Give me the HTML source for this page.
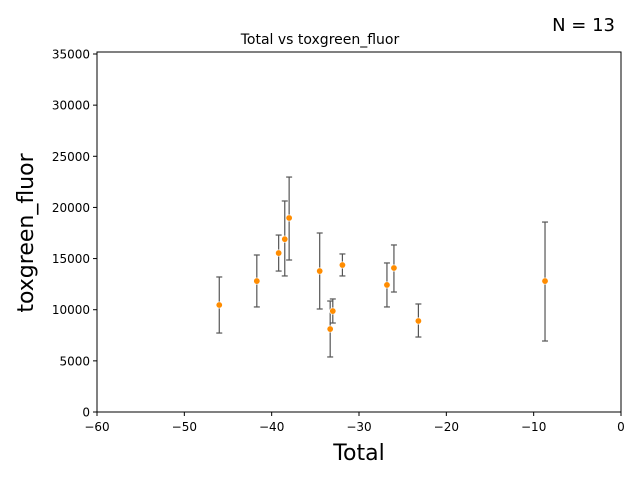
<!DOCTYPE html>
<html><head><meta charset="utf-8"><style>
body{margin:0;background:#fff;font-family:"Liberation Sans","DejaVu Sans",sans-serif;}
svg text{font-family:"DejaVu Sans","Liberation Sans",sans-serif;}
</style></head><body>
<svg id="chart" width="640" height="480" xmlns="http://www.w3.org/2000/svg">
<rect x="0" y="0" width="640" height="480" fill="#fff"/>
<text x="320" y="44" text-anchor="middle" font-size="14">Total vs toxgreen_fluor</text>
<text x="615" y="31" text-anchor="end" font-size="18">N = 13</text>
<text x="359" y="460" text-anchor="middle" font-size="22">Total</text>
<text transform="translate(33,233) rotate(-90)" text-anchor="middle" font-size="22">toxgreen_fluor</text>
<g id="axes"></g>
<g id="marks"></g>
<rect x="97" y="52" width="524" height="360" fill="none" stroke="#000" stroke-width="1"/>
</svg>
<script>
const xVals=[-46.0,-41.7,-39.2,-38.5,-38.0,-34.5,-33.3,-33.0,-31.9,-26.8,-26.0,-23.2,-8.7];
const yVals=[10460,12800,15540,16900,18970,13780,8110,9870,14370,12420,14080,8900,12800];
const yHigh=[13200,15350,17300,20630,22970,17500,10850,11050,15450,14570,16330,10560,18570];
const yLow=[7720,10270,13780,13300,14860,10070,5380,8700,13300,10270,11730,7330,6940];
const xTicks=[-60,-50,-40,-30,-20,-10,0];
const yTicks=[0,5000,10000,15000,20000,25000,30000,35000];
const NS="http://www.w3.org/2000/svg";
const X0=97,X1=621,Y0=412,Y1=54;
function sx(v){return X0+(v-(-60))/60*(X1-X0);}
function sy(v){return Y0-v/35000*(Y0-Y1);}
function mk(t,a,p){const e=document.createElementNS(NS,t);for(const k in a)e.setAttribute(k,a[k]);p.appendChild(e);return e;}
const axes=document.getElementById('axes'),marks=document.getElementById('marks');
xTicks.forEach(v=>{
 const l=mk('line',{x1:sx(v),x2:sx(v),y1:412,y2:416,stroke:'#000'},axes);
 
 
 const t=mk('text',{x:sx(v),y:431,'text-anchor':'middle','font-size':'12'},axes);
 t.textContent=(v<0?'\u2212'+(-v):v);
 
 
});
yTicks.forEach(v=>{
 const l=mk('line',{x1:93,x2:97,y1:sy(v),y2:sy(v),stroke:'#000'},axes);
 
 
 const t=mk('text',{x:90,y:sy(v)+4.5,'text-anchor':'end','font-size':'12'},axes);
 t.textContent=v;
 
 
});
xVals.forEach((xv,i)=>{
 const x=sx(xv);
 const g=mk('g',{},marks);
 
 
 mk('line',{x1:x,x2:x,y1:sy(yHigh[i]),y2:sy(yLow[i]),stroke:'#555','stroke-width':1.2},g);
 mk('line',{x1:x-3,x2:x+3,y1:sy(yHigh[i]),y2:sy(yHigh[i]),stroke:'#555','stroke-width':1.2},g);
 mk('line',{x1:x-3,x2:x+3,y1:sy(yLow[i]),y2:sy(yLow[i]),stroke:'#555','stroke-width':1.2},g);
 mk('circle',{cx:x,cy:sy(yVals[i]),r:3.2,fill:'#ff8c00',stroke:'#fff','stroke-width':0.6},g);
});
</script>
</body></html>
